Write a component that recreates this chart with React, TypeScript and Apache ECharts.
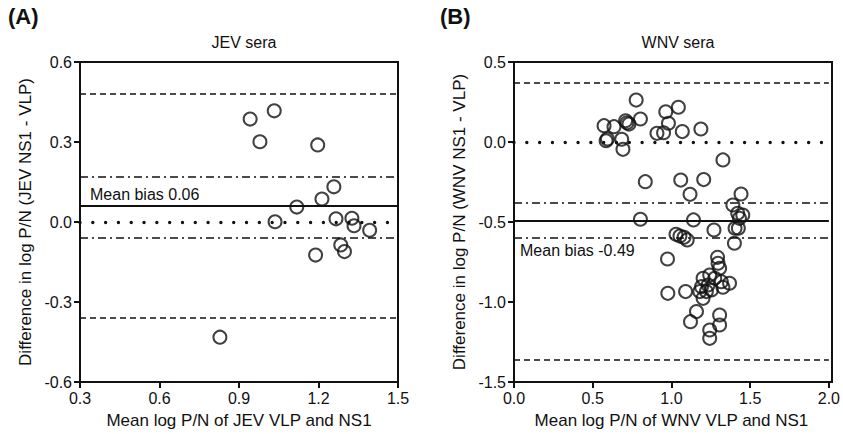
import React, { useEffect, useRef } from "react";
import * as echarts from "echarts";

// Panel A: JEV sera
const jevMean = [0.942, 1.033, 0.979, 1.197, 1.258, 1.213, 1.118, 1.036, 1.266, 1.326, 1.334, 1.393, 1.284, 1.298, 1.189, 0.828];
const jevDiff = [0.386, 0.417, 0.301, 0.289, 0.132, 0.086, 0.056, 0.001, 0.012, 0.014, -0.014, -0.031, -0.086, -0.111, -0.124, -0.432];
const jevBias = 0.056;
const jevLoA = [0.478, -0.364];
const jevCI = [0.169, -0.06];
const jevXTicks = [0.3, 1.5, 0.3]; // min, max, interval
const jevYTicks = [-0.6, 0.6, 0.3];

// Panel B: WNV sera
const wnvMean = [
  0.572, 0.635, 0.709, 0.73, 0.718, 0.803, 0.776, 0.593, 0.585, 0.684, 0.692,
  0.964, 1.044, 0.981, 0.908, 0.95, 1.069, 1.187, 1.327, 0.834, 1.059, 1.205,
  1.118, 1.442, 1.39, 0.803, 1.14, 1.421, 1.453, 1.432, 1.404, 1.425, 1.27,
  1.4, 1.029, 1.054, 1.08, 1.1, 0.975, 1.293, 1.296, 1.306, 1.243, 1.201,
  1.275, 1.317, 1.369, 1.191, 1.233, 1.327, 1.222, 1.254, 1.18, 1.201, 0.977,
  1.09, 1.159, 1.121, 1.306, 1.306, 1.243, 1.243,
];
const wnvDiff = [
  0.102, 0.096, 0.133, 0.112, 0.12, 0.144, 0.262, 0.019, 0.008, 0.017, -0.046,
  0.189, 0.217, 0.117, 0.054, 0.058, 0.065, 0.081, -0.112, -0.248, -0.238, -0.235,
  -0.327, -0.325, -0.394, -0.483, -0.487, -0.446, -0.456, -0.477, -0.539, -0.539, -0.55,
  -0.633, -0.577, -0.588, -0.596, -0.612, -0.731, -0.721, -0.758, -0.789, -0.831, -0.852,
  -0.852, -0.873, -0.883, -0.904, -0.894, -0.908, -0.935, -0.925, -0.935, -0.977, -0.946,
  -0.935, -1.06, -1.123, -1.081, -1.144, -1.175, -1.227,
];
const wnvBias = -0.49;
const wnvLoA = [0.373, -1.358];
const wnvCI = [-0.383, -0.598];
const wnvXTicks = [0, 2, 0.5];
const wnvYTicks = [-1.5, 0.5, 0.5];

const FONT = "Liberation Sans, Arial, sans-serif";
const INK = "#111";

function refLines(bias: number, loa: number[], ci: number[]) {
  const dashed = { color: INK, width: 1.7, type: [6, 4] as any };
  const dashDot = { color: INK, width: 1.7, type: [8, 4, 2, 4] as any };
  const dotted = { color: INK, width: 3.4, type: [0.01, 12.8] as any, cap: "round" as any };
  const solid = { color: INK, width: 1.9, type: "solid" as any };
  return {
    silent: true,
    symbol: ["none", "none"],
    label: { show: false },
    data: [
      { yAxis: loa[0], lineStyle: dashed },
      { yAxis: loa[1], lineStyle: dashed },
      { yAxis: ci[0], lineStyle: dashDot },
      { yAxis: ci[1], lineStyle: dashDot },
      { yAxis: 0, lineStyle: dotted },
      { yAxis: bias, lineStyle: solid },
    ],
  };
}

function axisCommon() {
  return {
    axisLine: { show: true, onZero: false, lineStyle: { color: INK, width: 2 } },
    axisTick: { show: true, inside: false, length: 6, lineStyle: { color: INK, width: 2 } },
    splitLine: { show: false },
    axisLabel: {
      color: INK,
      fontFamily: FONT,
      fontSize: 16,
      formatter: (v: number) => (Math.abs(v) < 1e-9 ? 0 : v).toFixed(1),
    },
    nameTextStyle: { color: INK, fontFamily: FONT, fontSize: 17 },
  };
}

const GRID_A = { left: 80, top: 62, width: 318, height: 320 };
const GRID_B = { left: 514, top: 62, width: 318, height: 320 };

function frameRect(g: { left: number; top: number; width: number; height: number }) {
  return {
    type: "rect",
    silent: true,
    z: 10,
    shape: { x: g.left, y: g.top, width: g.width, height: g.height },
    style: { fill: "none", stroke: INK, lineWidth: 2 },
  };
}

export default function App() {
  const ref = useRef<HTMLDivElement>(null);
  useEffect(() => {
    document.body.style.margin = "0";
    const chart = echarts.init(ref.current!, null, { renderer: "svg" });
    const xA = {
      ...axisCommon(),
      type: "value",
      gridIndex: 0,
      min: jevXTicks[0],
      max: jevXTicks[1],
      interval: jevXTicks[2],
      name: "Mean log P/N of JEV VLP and NS1",
      nameLocation: "middle",
      nameGap: 30,
    };
    const xB = {
      ...axisCommon(),
      type: "value",
      gridIndex: 1,
      min: wnvXTicks[0],
      max: wnvXTicks[1],
      interval: wnvXTicks[2],
      name: "Mean log P/N of WNV VLP and NS1",
      nameLocation: "middle",
      nameGap: 30,
    };
    const yA = {
      ...axisCommon(),
      type: "value",
      gridIndex: 0,
      min: jevYTicks[0],
      max: jevYTicks[1],
      interval: jevYTicks[2],
      name: "Difference in log P/N (JEV NS1 - VLP)",
      nameLocation: "middle",
      nameRotate: 90,
      nameGap: 46,
    };
    const yB = {
      ...axisCommon(),
      type: "value",
      gridIndex: 1,
      min: wnvYTicks[0],
      max: wnvYTicks[1],
      interval: wnvYTicks[2],
      name: "Difference in log P/N (WNV NS1 - VLP)",
      nameLocation: "middle",
      nameRotate: 90,
      nameGap: 46,
    };
    const marker = {
      symbol: "circle",
      symbolSize: 13,
      itemStyle: { color: "rgba(0,0,0,0)", borderColor: INK, borderWidth: 2 },
    };
    chart.setOption({
      animation: false,
      backgroundColor: "#fff",
      grid: [GRID_A, GRID_B],
      xAxis: [xA, xB],
      yAxis: [yA, yB],
      title: [
        { text: "JEV sera", left: 239, top: 29, textAlign: "center", textStyle: { fontFamily: FONT, fontSize: 16, fontWeight: "normal", color: INK } },
        { text: "WNV sera", left: 673, top: 29, textAlign: "center", textStyle: { fontFamily: FONT, fontSize: 16, fontWeight: "normal", color: INK } },
      ],
      graphic: [
        frameRect(GRID_A),
        frameRect(GRID_B),
        { type: "text", left: 8, top: 5, style: { text: "(A)", font: `bold 22px ${FONT}`, fill: INK } },
        { type: "text", left: 440, top: 5, style: { text: "(B)", font: `bold 22px ${FONT}`, fill: INK } },
        { type: "text", left: 90, top: 186, style: { text: "Mean bias 0.06", font: `16px ${FONT}`, fill: INK } },
        { type: "text", left: 520, top: 242, style: { text: "Mean bias -0.49", font: `16px ${FONT}`, fill: INK } },
      ],
      series: [
        {
          type: "scatter",
          xAxisIndex: 0,
          yAxisIndex: 0,
          data: jevMean.map((m, i) => [m, jevDiff[i]]),
          ...marker,
          markLine: refLines(jevBias, jevLoA, jevCI),
        },
        {
          type: "scatter",
          xAxisIndex: 1,
          yAxisIndex: 1,
          data: wnvMean.map((m, i) => [m, wnvDiff[i]]),
          ...marker,
          markLine: refLines(wnvBias, wnvLoA, wnvCI),
        },
      ],
    });
    return () => chart.dispose();
  }, []);
  return <div ref={ref} style={{ width: 843, height: 434, position: "absolute", left: 0, top: 0 }} />;
}
